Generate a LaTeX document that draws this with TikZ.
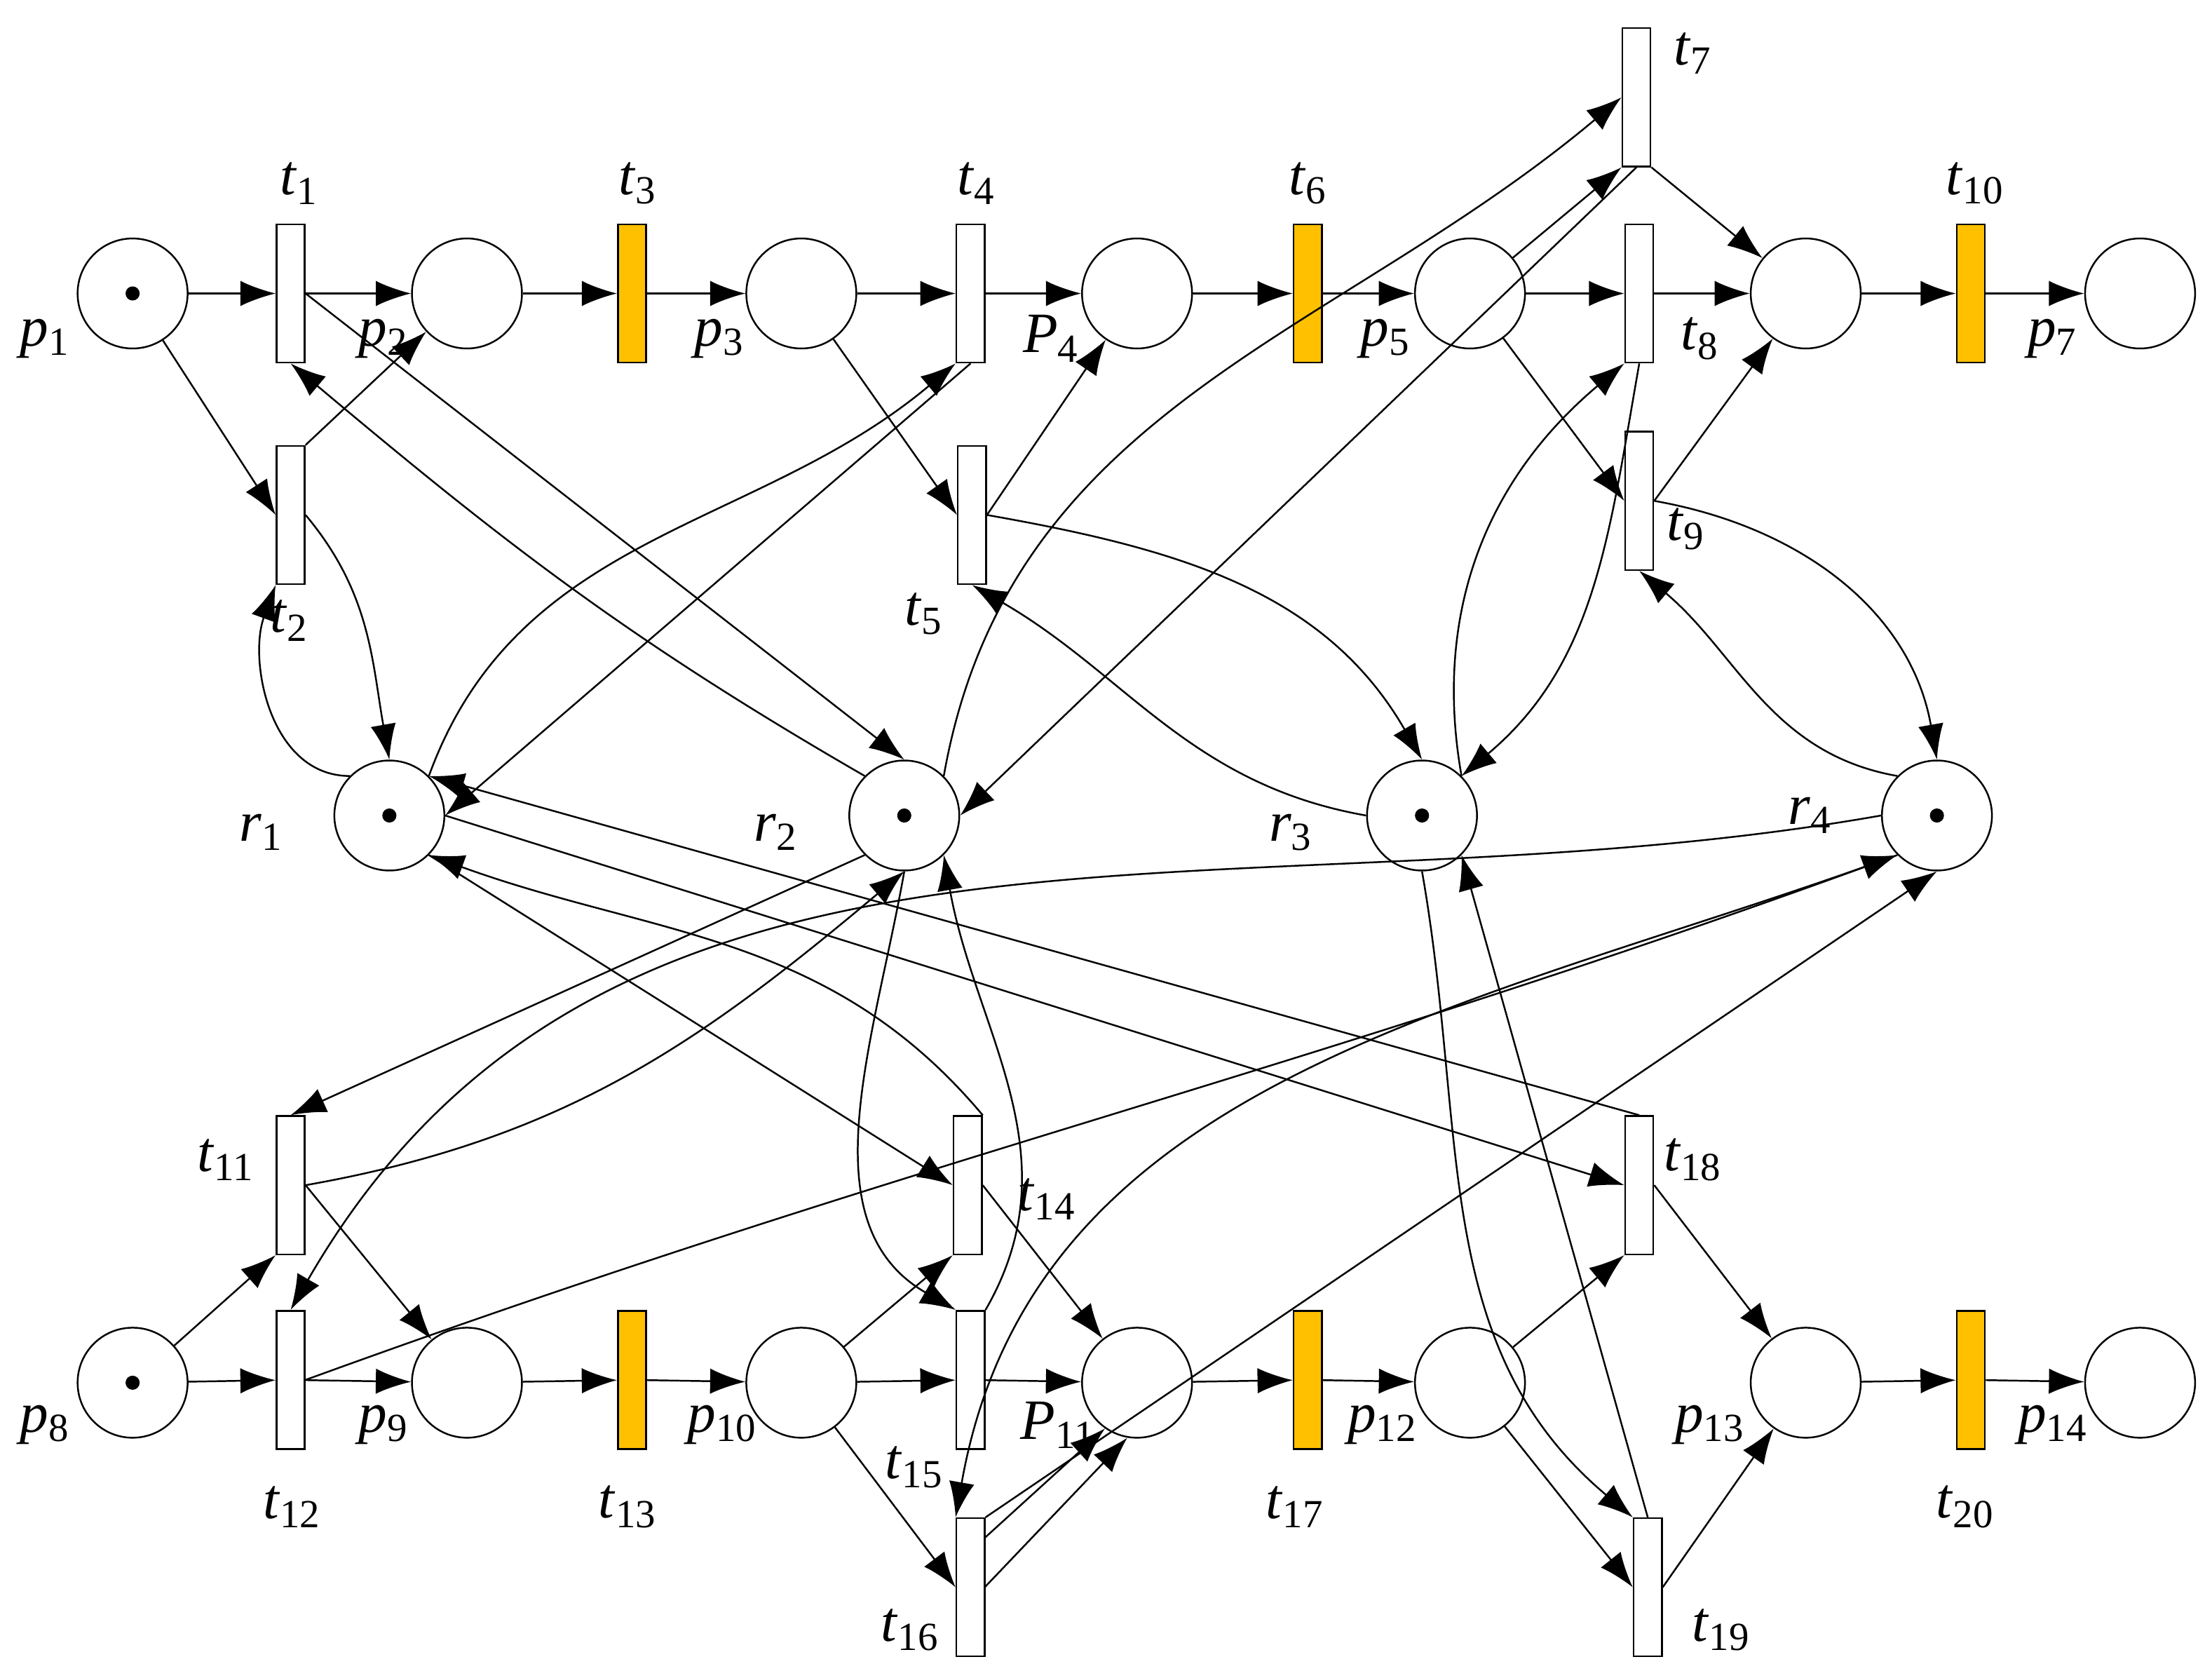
\documentclass[tikz,border=0pt]{standalone}
\usepackage{fontspec}
\setmainfont{Liberation Serif}
\usetikzlibrary{arrows.meta}
\definecolor{gold}{RGB}{255,192,0}
\begin{document}
\begin{tikzpicture}[x=0.02cm,y=-0.02cm,
  pl/.style={circle,draw,line width=0.7pt,minimum size=1.56cm,inner sep=0},
  tr/.style={rectangle,draw,line width=0.7pt,minimum width=0.4cm,minimum height=1.96cm,inner sep=0},
  tro/.style={tr,fill=gold},
  lb/.style={font=\fontsize{23}{27}\selectfont},
  a/.style={-{Latex[length=0.5cm,width=0.36cm]},line width=0.7pt},
  tok/.style={circle,fill=black,minimum size=0.2cm,inner sep=0}]
\useasboundingbox (0,0) rectangle (1568,1189);
% places
\foreach \n/\x/\y in {p1/94/208,p2/331/208,p3/568/208,p4/806/208,p5/1042/208,p6/1280/208,p7/1517/208,
 r1/276/578,r2/641/578,r3/1008/578,r4/1373/578,
 p8/94/980,p9/331/980,p10/568/980,p11/806/980,p12/1042/980,p13/1280/980,p14/1517/980}
 \node[pl] (\n) at (\x,\y) {};
\foreach \n in {p1,r1,r2,r3,r4,p8} \node[tok] at (\n) {};
% transitions
\foreach \n/\x/\y in {t1/206/208,t2/206/365,t4/688/208,t5/689/365,t7/1160/69,t8/1162/208,t9/1162/355,
 t11/206/840,t12/206/978,t14/686/840,t15/688/978,t16/688/1125,t18/1162/840,t19/1168/1125}
 \node[tr] (\n) at (\x,\y) {};
\foreach \n/\x/\y in {t3/448/208,t6/927/208,t10/1397/208,t13/448/978,t17/927/978,t20/1397/978}
 \node[tro] (\n) at (\x,\y) {};
% labels
\foreach \x/\y/\l/\s in {32/240/p/1,272/240/p/2,510/240/p/3,745/240/P/4,982/240/p/5,1205/240/t/8,1455/240/p/7,
 212/130/t/1,452/130/t/3,692/130/t/4,927/130/t/6,1400/130/t/10,1200/38/t/7,205/440/t/2,655/435/t/5,1195/375/t/9,
 185/590/r/1,550/590/r/2,915/590/r/3,1283/578/r/4,160/822/t/11,742/850/t/14,1200/822/t/18,
 32/1010/p/8,207/1068/t/12,272/1010/p/9,445/1068/t/13,512/1010/p/10,648/1040/t/15,750/1010/P/11,
 918/1068/t/17,980/1010/p/12,1212/1010/p/13,1393/1068/t/20,1455/1010/p/14,645/1155/t/16,1220/1155/t/19}
 \node[lb] at (\x,\y) {\textit{\l}\textsubscript{\s}};
% row 1 flow
\draw[a] (p1)--(t1); \draw[a] (t1)--(p2); \draw[a] (p2)--(t3); \draw[a] (t3)--(p3);
\draw[a] (p3)--(t4); \draw[a] (t4)--(p4); \draw[a] (p4)--(t6); \draw[a] (t6)--(p5);
\draw[a] (p5)--(t8); \draw[a] (t8)--(p6); \draw[a] (p6)--(t10); \draw[a] (t10)--(p7);
\draw[a] (p1)--(t2.west); \draw[a] (t2.north east)--(p2);
\draw[a] (p3)--(t5.west); \draw[a] (t5.east)--(p4);
\draw[a] (p5)--(t7.south west); \draw[a] (t7.south east)--(p6);
\draw[a] (p5)--(t9.west); \draw[a] (t9.east)--(p6);
% resources top
\draw[a] (t1.east)--(r2.north);
\draw[a] (r2.north west) to[out=150,in=-40] (t1.south);
\draw[a] (t2.east) to[out=-50,in=100] (r1.north);
\draw[a] (r1.north west) to[out=180,in=-110] (t2.south west);
\draw[a] (r1.north east) to[out=70,in=-140] (t4.south west);
\draw[a] (t4.south) -- (r1.east);
\draw[a] (t5.east) to[out=-10,in=120] (r3.north);
\draw[a] (r3.west) to[out=170,in=-30] (t5.south);
\draw[a] (r2.north east) to[out=80,in=-140] (t7.west);
\draw[a] (t7.south) -- (r2.east);
\draw[a] (r3.north east) to[out=100,in=-140] (t8.south west);
\draw[a] (t8.south) to[out=-100,in=40] (r3.north east);
\draw[a] (t9.east) to[out=-10,in=100] (r4.north);
\draw[a] (r4.north west) to[out=170,in=-40] (t9.south);
% resources bottom
\draw[a] (r2.south west)--(t11.north);
\draw[a] (t11.east) to[out=10,in=-140] (r2.south);
\draw[a] (r4.west) to[out=190,in=60] (t12.north);
\draw[a] (t12.east) to[out=20,in=-160] (r4.south west);
\draw[a] (r1.south east)--(t14.west);
\draw[a] (t14.north east) to[out=130,in=-20] (r1.south east);
\draw[a] (r2.south) to[out=-100,in=150] (t15.north west);
\draw[a] (t15.north east) to[out=60,in=-80] (r2.south east);
\draw[a] (r4.south west) to[out=200,in=80] (t16.north west);
\draw[a] (t16.north east)--(r4.south);
\draw[a] (r1.east)--(t18.west);
\draw[a] (t18.north) -- (r1.north east);
\draw[a] (r3.south) to[out=-80,in=140] (t19.north west);
\draw[a] (t19.north) -- (r3.south east);
% row 2 flow
\draw[a] (p8)--(t11.south west); \draw[a] (t11.east)--(p9);
\draw[a] (p8)--(t12); \draw[a] (t12)--(p9); \draw[a] (p9)--(t13); \draw[a] (t13)--(p10);
\draw[a] (p10)--(t14.south west); \draw[a] (t14.east)--(p11);
\draw[a] (p10)--(t15); \draw[a] (t15)--(p11);
\draw[a] (p10)--(t16.west);
\coordinate (u1) at (698,1090); \coordinate (u2) at (698,1125);
\draw[a] (u1)--(p11.235); \draw[a] (u2)--(p11.260);
\draw[a] (p11)--(t17); \draw[a] (t17)--(p12);
\draw[a] (p12)--(t18.south west); \draw[a] (t18.east)--(p13);
\draw[a] (p12)--(t19.west); \draw[a] (t19.east)--(p13);
\draw[a] (p13)--(t20); \draw[a] (t20)--(p14);
\end{tikzpicture}
\end{document}
